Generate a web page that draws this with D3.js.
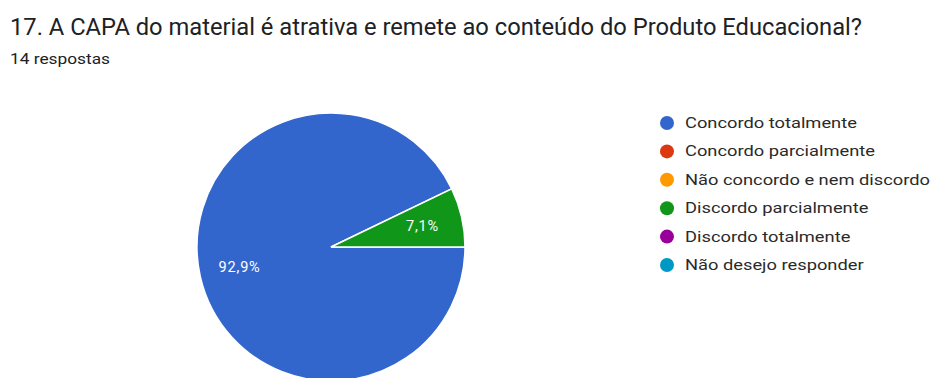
<!DOCTYPE html>
<html lang="pt-BR">
<head>
<meta charset="utf-8">
<script src="https://cdn.jsdelivr.net/npm/d3@7"></script>
<style>
  html, body { margin: 0; padding: 0; background: #fff; }
  svg { display: block; font-family: Roboto, "Noto Sans", sans-serif; }
</style>
</head>
<body>
<svg id="chart" width="935" height="378"></svg>
<script>
// Survey question and responses
const title = "17. A CAPA do material é atrativa e remete ao conteúdo do Produto Educacional?";
const subtitle = "14 respostas";
const categories = [
  "Concordo totalmente",
  "Concordo parcialmente",
  "Não concordo e nem discordo",
  "Discordo parcialmente",
  "Discordo totalmente",
  "Não desejo responder"
];
const counts = [13, 0, 0, 1, 0, 0];
const colors = ["#3366cc", "#dc3912", "#ff9900", "#109618", "#990099", "#0099c6"];

const svg = d3.select("#chart");

// Header
svg.append("text")
  .attr("x", 10).attr("y", 35)
  .attr("font-size", 23.5)
  .attr("fill", "#202124")
  .attr("textLength", 852)
  .attr("lengthAdjust", "spacingAndGlyphs")
  .text(title);

svg.append("text")
  .attr("x", 10).attr("y", 64)
  .attr("font-size", 15)
  .attr("fill", "#202124")
  .attr("textLength", 100)
  .attr("lengthAdjust", "spacingAndGlyphs")
  .text(subtitle);

// Pie
const cx = 331, cy = 247, R = 134;
const total = d3.sum(counts);
const data = categories.map((c, i) => ({ cat: c, value: counts[i], color: colors[i] }));

const pie = d3.pie()
  .value(d => d.value)
  .sort(null)
  .startAngle(Math.PI / 2)
  .endAngle(Math.PI / 2 + 2 * Math.PI);

const arcs = pie(data);
const arc = d3.arc().innerRadius(0).outerRadius(R);
const labelArc = d3.arc().innerRadius(R * 0.7).outerRadius(R * 0.7);

const g = svg.append("g").attr("transform", `translate(${cx},${cy})`);

g.selectAll("path.slice")
  .data(arcs.filter(a => a.data.value > 0))
  .join("path")
  .attr("class", "slice")
  .attr("d", arc)
  .attr("fill", d => d.data.color)
  .attr("stroke", "#ffffff")
  .attr("stroke-width", 1.5);

const fmt = v => (v * 100).toFixed(1).replace(".", ",") + "%";

g.selectAll("text.pct")
  .data(arcs.filter(a => a.data.value > 0))
  .join("text")
  .attr("class", "pct")
  .attr("transform", d => `translate(${labelArc.centroid(d)})`)
  .attr("text-anchor", "middle")
  .attr("dominant-baseline", "central")
  .attr("font-size", 14.5)
  .attr("letter-spacing", 0.8)
  .attr("fill", "#ffffff")
  .text(d => fmt(d.data.value / total));

// Legend
const legend = svg.append("g").attr("transform", "translate(667,123)");
const rowH = 28.4;
const items = legend.selectAll("g.item")
  .data(data)
  .join("g")
  .attr("class", "item")
  .attr("transform", (d, i) => `translate(0,${i * rowH})`);

items.append("circle")
  .attr("r", 7)
  .attr("fill", d => d.color);

const labels = items.append("text")
  .attr("x", 18)
  .attr("dominant-baseline", "central")
  .attr("font-size", 14)
  .attr("fill", "#2a2a2a")
  .text(d => d.cat);

// Stretch legend labels horizontally so the longest one ends near the right edge
let maxW = 0;
labels.each(function () { maxW = Math.max(maxW, this.getComputedTextLength()); });
const sx = (930 - 685) / maxW;
labels.each(function () {
  const w = this.getComputedTextLength();
  d3.select(this).attr("textLength", w * sx).attr("lengthAdjust", "spacingAndGlyphs");
});
</script>
</body>
</html>
